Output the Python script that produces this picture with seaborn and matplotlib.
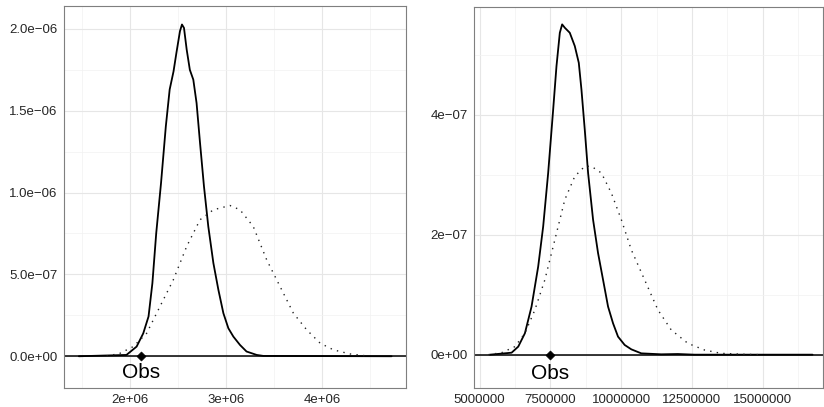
import matplotlib
matplotlib.use("Agg")
import matplotlib.pyplot as plt
from matplotlib.ticker import MultipleLocator, FuncFormatter
import numpy as np
import pandas as pd
import seaborn as sns

# ---- data ------------------------------------------------------------------
# left panel, solid density
left_solid_x = [1.465e6, 1.96e6, 2.066e6, 2.135e6, 2.19e6, 2.23e6, 2.27e6, 2.32e6,
                2.37e6, 2.41e6, 2.45e6, 2.48e6, 2.517e6, 2.538e6, 2.559e6, 2.587e6,
                2.62e6, 2.656e6, 2.69e6, 2.726e6, 2.767e6, 2.812e6, 2.865e6, 2.917e6,
                2.969e6, 3.021e6, 3.073e6, 3.142e6, 3.21e6, 3.316e6, 3.385e6, 4.72e6]
left_solid_y = [0.0, 0.008, 0.059, 0.14, 0.243, 0.446, 0.752, 1.058,
                1.405, 1.63, 1.74, 1.853, 1.986, 2.027, 2.006, 1.874,
                1.75, 1.69, 1.547, 1.303, 1.038, 0.793, 0.569, 0.406,
                0.263, 0.171, 0.12, 0.069, 0.029, 0.008, 0.002, 0.0]
# left panel, dotted density
left_dot_x = [1.753e6, 1.892e6, 2.031e6, 2.17e6, 2.309e6, 2.448e6, 2.587e6, 2.726e6,
              2.865e6, 3.038e6, 3.142e6, 3.28e6, 3.42e6, 3.559e6, 3.698e6, 3.837e6,
              3.976e6, 4.115e6, 4.288e6, 4.462e6]
left_dot_y = [0.0, 0.018, 0.059, 0.14, 0.304, 0.467, 0.671, 0.834,
              0.895, 0.921, 0.895, 0.793, 0.589, 0.426, 0.263, 0.161,
              0.08, 0.039, 0.014, 0.002]
left_obs = 2.11e6

# right panel, solid density
right_solid_x = [5.364e6, 6.128e6, 6.363e6, 6.598e6, 6.833e6, 7.068e6, 7.244e6, 7.42e6,
                 7.597e6, 7.714e6, 7.832e6, 7.914e6, 8.008e6, 8.184e6, 8.361e6, 8.502e6,
                 8.596e6, 8.713e6, 8.831e6, 9.007e6, 9.183e6, 9.36e6, 9.536e6, 9.712e6,
                 9.888e6, 10.123e6, 10.358e6, 10.71e6, 11.416e6, 12.0e6, 12.59e6, 16.76e6]
right_solid_y = [0.0, 0.033, 0.134, 0.357, 0.802, 1.471, 2.139, 3.03,
                 4.089, 4.813, 5.37, 5.51, 5.454, 5.37, 5.148, 4.869,
                 4.423, 3.755, 3.031, 2.251, 1.694, 1.248, 0.802, 0.524,
                 0.301, 0.162, 0.089, 0.022, 0.006, 0.011, 0.0, 0.0]
# right panel, dotted density
right_dot_x = [5.306e6, 5.776e6, 6.246e6, 6.598e6, 6.951e6, 7.303e6, 7.656e6, 8.008e6,
               8.361e6, 8.713e6, 8.948e6, 9.301e6, 9.653e6, 10.006e6, 10.358e6, 10.828e6,
               11.298e6, 11.769e6, 12.356e6, 12.944e6, 13.531e6, 14.354e6, 14.94e6]
right_dot_y = [0.0, 0.033, 0.134, 0.357, 0.747, 1.248, 1.916, 2.585,
               2.975, 3.142, 3.142, 3.031, 2.696, 2.251, 1.749, 1.248,
               0.747, 0.412, 0.189, 0.078, 0.022, 0.006, 0.0]
right_obs = 7.5e6


def _sci(v, _pos, digits):
    if v == 0:
        return "0.0e+00" if digits else "0e+00"
    s = f"{v:.{digits}e}"
    return s.replace("-", "\u2212")


def _style_axis(ax):
    ax.set_facecolor("white")
    for sp in ax.spines.values():
        sp.set_color("#7f7f7f")
        sp.set_linewidth(0.8)
    ax.grid(which="major", color="#e6e6e6", linewidth=0.8)
    ax.grid(which="minor", color="#f2f2f2", linewidth=0.5)
    ax.set_axisbelow(True)
    ax.tick_params(which="major", length=3, width=0.6, color="#333333",
                   labelsize=9.5, labelcolor="#262626", pad=1.5)
    ax.tick_params(which="minor", length=0)
    ax.set_xlabel("")
    ax.set_ylabel("")


def draw_panel(ax, sx, sy, dx, dy, obs, yscale, obs_y):
    solid = pd.DataFrame({"x": sx, "y": np.array(sy) * yscale})
    dotted = pd.DataFrame({"x": dx, "y": np.array(dy) * yscale})
    ax.axhline(0, color="black", linewidth=1.1, zorder=2)
    sns.lineplot(data=solid, x="x", y="y", ax=ax, color="black",
                 linewidth=1.3, sort=True, zorder=3)
    sns.lineplot(data=dotted, x="x", y="y", ax=ax, color="#222222",
                 linewidth=1.0, linestyle=(0, (1.0, 3.8)), sort=True, zorder=3)
    sns.scatterplot(x=[obs], y=[0.0], ax=ax, marker="D", s=22,
                    color="black", edgecolor="black", zorder=4)
    ax.text(obs, obs_y, "Obs", ha="center", va="center", fontsize=15,
            color="black")


sns.set_style("white")
plt.rcParams["font.family"] = ["Liberation Sans", "DejaVu Sans"]

fig = plt.figure(figsize=(8.24, 4.07), dpi=100)
W, H = 824, 407
ax1 = fig.add_axes([64 / W, (H - 388) / H, (406 - 64) / W, (388 - 6) / H])
ax2 = fig.add_axes([474 / W, (H - 388) / H, (823 - 474) / W, (388 - 7) / H])

draw_panel(ax1, left_solid_x, left_solid_y, left_dot_x, left_dot_y,
           left_obs, 1e-6, -0.102e-6)
ax1.set_xlim(1.31e6, 4.87e6)
ax1.set_ylim(-0.194e-6, 2.14e-6)
ax1.xaxis.set_major_locator(MultipleLocator(1e6))
ax1.xaxis.set_minor_locator(MultipleLocator(0.5e6))
ax1.yaxis.set_major_locator(MultipleLocator(0.5e-6))
ax1.yaxis.set_minor_locator(MultipleLocator(0.25e-6))
ax1.xaxis.set_major_formatter(FuncFormatter(lambda v, p: _sci(v, p, 0).replace("\u2212", "-")
                                            if v > 0 else ""))
ax1.yaxis.set_major_formatter(FuncFormatter(lambda v, p: _sci(v, p, 1)))
_style_axis(ax1)

draw_panel(ax2, right_solid_x, right_solid_y, right_dot_x, right_dot_y,
           right_obs, 1e-7, -0.306e-7)
ax2.set_xlim(4.8e6, 17.13e6)
ax2.set_ylim(-0.556e-7, 5.8e-7)
ax2.xaxis.set_major_locator(MultipleLocator(2.5e6))
ax2.xaxis.set_minor_locator(MultipleLocator(1.25e6))
ax2.yaxis.set_major_locator(MultipleLocator(2e-7))
ax2.yaxis.set_minor_locator(MultipleLocator(1e-7))
ax2.xaxis.set_major_formatter(FuncFormatter(lambda v, p: f"{int(round(v))}"))
ax2.yaxis.set_major_formatter(FuncFormatter(lambda v, p: _sci(v, p, 0)))
_style_axis(ax2)

fig.savefig("out.png", dpi=100)
